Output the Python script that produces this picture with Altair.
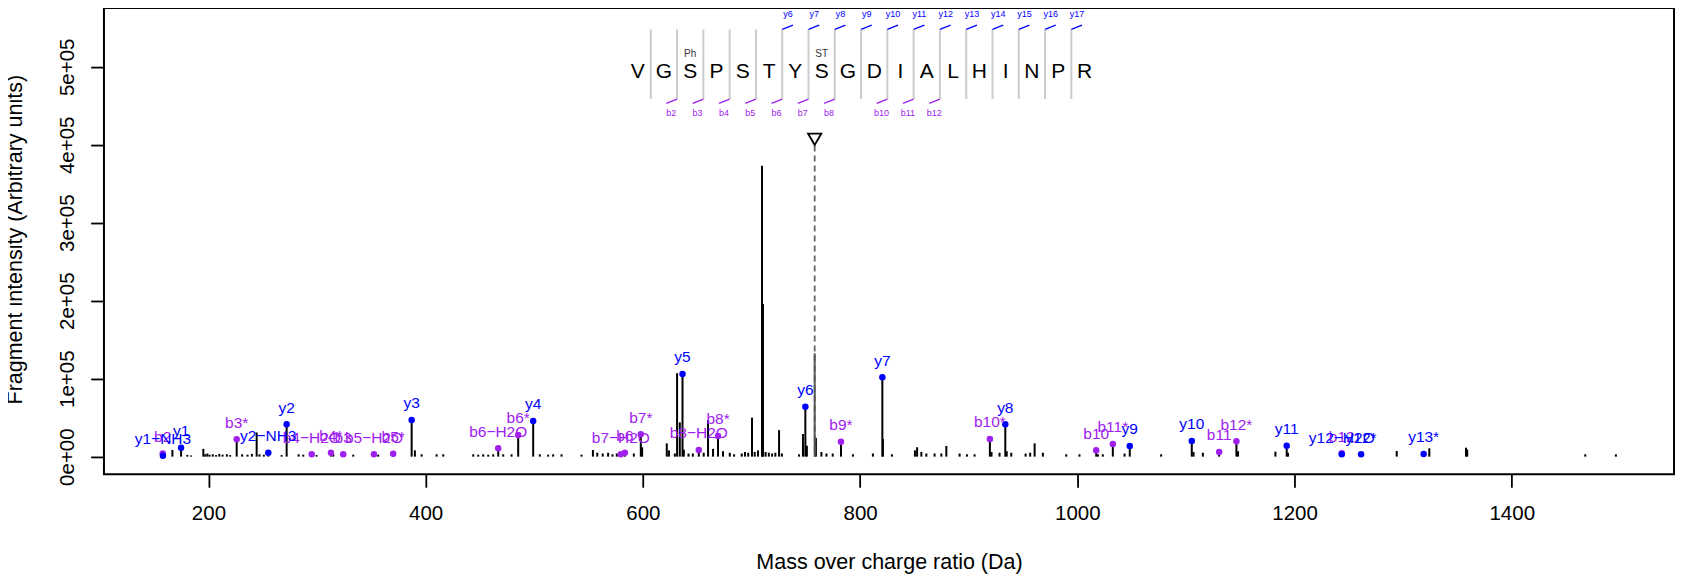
import altair as alt
import pandas as pd

# ---------------- data ----------------
# unlabelled fragment peaks (m/z, intensity)
peak_mz = [166.8, 180.6, 184.0, 195.3, 197.0, 199.0, 201.0, 204.0, 207.0, 210.0,
           213.0, 217.0, 220.0, 231.0, 236.0, 240.0, 244.4, 247.0, 251.0, 267.4,
           283.0, 287.3, 299.6, 315.0, 333.3, 356.3, 390.1, 396.3, 410.1, 416.2,
           443.8, 448.4, 453.0, 457.6, 462.2, 471.4, 479.1, 505.1, 512.8, 517.4,
           525.1, 543.5, 554.0, 558.0, 563.0, 568.0, 572.0, 576.0, 591.7, 599.3,
           622.0, 624.0, 629.4, 631.5, 634.0, 637.7, 642.0, 646.0, 656.0, 660.0,
           664.6, 673.8, 680.0, 684.0, 691.0, 694.0, 697.0, 700.5, 703.0, 706.0,
           709.7, 710.6, 713.0, 716.0, 719.0, 722.0, 725.4, 728.0, 743.8, 747.4,
           751.0, 759.3, 764.4, 769.0, 774.8, 793.4, 811.8, 821.0, 829.3, 850.5,
           852.5, 856.4, 861.0, 868.6, 874.8, 879.4, 891.6, 898.4, 905.4, 921.0,
           928.4, 935.0, 939.2, 952.4, 956.6, 960.7, 968.3, 989.8, 1002.0, 1019.0,
           1023.5, 1043.5, 1077.2, 1107.0, 1115.6, 1148.0, 1182.4, 1194.0, 1294.1, 1324.1,
           1357.9, 1359.0, 1467.7, 1495.9]
peak_int = [8600, 2200, 1500, 10000, 3000, 4000, 2500, 3000, 2000, 3500,
            2500, 3000, 2000, 3000, 2500, 3500, 31000, 3000, 2500, 2000,
            3000, 2500, 2000, 3000, 2500, 2500, 8000, 3000, 3000, 3000,
            3000, 2500, 3000, 2500, 3000, 3000, 3000, 3000, 2500, 3000,
            3000, 2500, 8600, 5000, 4000, 5000, 3000, 4000, 4000, 12000,
            17000, 8000, 4000, 107000, 44000, 9000, 4000, 4000, 5000, 47000,
            10000, 7000, 5000, 3000, 4000, 6000, 5000, 50000, 6000, 8000,
            373000, 195700, 6000, 5000, 4000, 5000, 34000, 4000, 3000, 29000,
            14000, 24000, 6000, 4000, 4000, 3000, 4000, 22700, 3000, 8000,
            12000, 6000, 4000, 4000, 4000, 13700, 4000, 3000, 3000, 6000,
            5000, 7000, 5000, 4000, 5000, 17000, 5000, 3000, 3000, 3000,
            3000, 4000, 3000, 6000, 5000, 7000, 6400, 5000, 7300, 10700,
            11500, 9000, 3000, 3000]

# annotated fragment ions
ion_mz = [157.9, 226.0, 295.1, 312.8, 324.1, 352.4, 370.1, 466.8, 485.2, 579.7,
          583.4, 598.1, 651.5, 669.2, 782.4, 919.5, 1017.4, 1032.7, 1130.6, 1146.5,
          1243.5,
          158.1, 174.8, 255.1, 272.0, 387.1, 499.0, 636.5, 749.6, 820.5, 933.7,
          1048.3, 1105.4, 1192.8, 1243.5, 1261.3, 1318.9]
ion_int = [4000, 22300, 3100, 5100, 3100, 3100, 3800, 10800, 27800, 3000,
           5100, 28700, 8600, 26500, 19200, 22700, 8200, 16300, 6000, 19700,
           4400,
           1000, 11500, 5100, 41500, 47000, 45800, 106000, 64100, 101800, 41500,
           13700, 20100, 14100, 3000, 3100, 3500]
ion_label = ["b2", "b3*", "b4\u2212H2O", "b4*", "b3", "b5\u2212H2O", "b5*", "b6\u2212H2O", "b6*", "b7\u2212H2O",
             "b6", "b7*", "b8\u2212H2O", "b8*", "b9*", "b10*", "b10", "b11*", "b11", "b12*",
             "b12",
             "y1\u2212NH3", "y1", "y2\u2212NH3", "y2", "y3", "y4", "y5", "y6", "y7", "y8",
             "y9", "y10", "y11", "y12\u2212H2O", "y12*", "y13*"]
ion_type = ["b"] * 21 + ["y"] * 16

precursor_mz = [758.2]
precursor_int = [132500]
marker_int = [407000]
dash_top = [399000]

# peptide sequence annotation
residues = list("VGSPSTYSGDIALHINPR")
mod_pos = [3, 8]
mod_text = ["Ph", "ST"]
y_ion_numbers = list(range(6, 18))
b_ion_numbers = [2, 3, 4, 5, 6, 7, 8, 10, 11, 12]

# ---------------- layout constants ----------------
X_DOMAIN = [103.8, 1549.4]
Y_DOMAIN = [-22560, 575256]
SEQ_CENTER = 800.9   # m/z position of the middle of the sequence band
SEQ_STEP = 24.2      # m/z width of one residue cell
FONT = "Liberation Sans"
BLUE = "#0000FF"
PURPLE = "#A020F0"

peaks_df = pd.DataFrame({"mz": peak_mz + ion_mz, "intensity": peak_int + ion_int})
ions_df = pd.DataFrame({"mz": ion_mz, "intensity": ion_int, "label": ion_label, "type": ion_type})
prec_df = pd.DataFrame({"mz": precursor_mz, "intensity": precursor_int,
                        "marker": marker_int, "dash_top": dash_top})
res_df = pd.DataFrame({"pos": list(range(1, len(residues) + 1)), "residue": residues})
sep_df = pd.DataFrame({"k": list(range(1, len(residues)))})
mod_df = pd.DataFrame({"pos": mod_pos, "mod": mod_text})
yion_df = pd.DataFrame({"k": y_ion_numbers, "name": ["y%d" % k for k in y_ion_numbers]})
bion_df = pd.DataFrame({"k": b_ion_numbers, "name": ["b%d" % k for k in b_ion_numbers]})

xscale = alt.Scale(domain=X_DOMAIN, nice=False, zero=False)
yscale = alt.Scale(domain=Y_DOMAIN, nice=False, zero=False)

xaxis = alt.Axis(values=[200, 400, 600, 800, 1000, 1200, 1400], format="d",
                 title="Mass over charge ratio (Da)", tickSize=13, tickWidth=1.8,
                 labelFontSize=20.5, titleFontSize=21.5, labelBaseline="alphabetic",
                 labelPadding=32.7, titleBaseline="alphabetic", titleY=94,
                 labelFlush=False, labelOverlap=False)
yaxis = alt.Axis(values=[0, 100000, 200000, 300000, 400000, 500000],
                 labelExpr="datum.value == 0 ? '0e+00' : (datum.value / 100000) + 'e+05'",
                 title="Fragment intensity (Arbitrary units)", tickSize=13.3, tickWidth=1.8,
                 labelFontSize=20.5, titleFontSize=21.5, labelAngle=270, labelAlign="center",
                 labelBaseline="alphabetic", labelPadding=16.7, titleAngle=270,
                 titleAlign="center", titleBaseline="alphabetic", titleX=-82.4, titleY=231.2,
                 labelOverlap=False, labelFlush=False)

color_scale = alt.Scale(domain=["b", "y"], range=[PURPLE, BLUE])

sticks = alt.Chart(peaks_df).mark_rule(color="black", strokeWidth=2).encode(
    x=alt.X("mz:Q", scale=xscale, axis=xaxis),
    y=alt.Y("intensity:Q", scale=yscale, axis=yaxis),
    y2=alt.datum(0),
)

dashed = alt.Chart(prec_df).mark_rule(color="#666666", strokeWidth=1.8, strokeDash=[6, 4]).encode(
    x="mz:Q", y="dash_top:Q", y2=alt.datum(0))

prec_stick = alt.Chart(prec_df).mark_rule(color="#555555", strokeWidth=2).encode(
    x="mz:Q", y="intensity:Q", y2=alt.datum(0))

marker = alt.Chart(prec_df).mark_point(shape="triangle-down", filled=False, color="black",
                                       size=177, strokeWidth=1.8, opacity=1).encode(
    x="mz:Q", y="marker:Q")

dots = alt.Chart(ions_df).mark_circle(size=42, opacity=1).encode(
    x="mz:Q", y="intensity:Q",
    color=alt.Color("type:N", scale=color_scale, legend=None))

labels = alt.Chart(ions_df).mark_text(font=FONT, fontSize=15.5, dy=-11.5,
                                      baseline="alphabetic", align="center").encode(
    x="mz:Q", y="intensity:Q", text="label:N",
    color=alt.Color("type:N", scale=color_scale, legend=None))

# sequence band
seq_letters = alt.Chart(res_df).transform_calculate(
    xpos=f"{SEQ_CENTER} + (datum.pos - 9.5) * {SEQ_STEP}"
).mark_text(font=FONT, fontSize=21, baseline="alphabetic", align="center", color="black").encode(
    x="xpos:Q", y=alt.value(70.3), text="residue:N")

seq_mods = alt.Chart(mod_df).transform_calculate(
    xpos=f"{SEQ_CENTER} + (datum.pos - 9.5) * {SEQ_STEP}"
).mark_text(font=FONT, fontSize=10, baseline="alphabetic", align="center", color="#333333").encode(
    x="xpos:Q", y=alt.value(48.7), text="mod:N")

separators = alt.Chart(sep_df).transform_calculate(
    xpos=f"{SEQ_CENTER} + (datum.k - 9) * {SEQ_STEP}"
).mark_rule(color="#CCCCCC", strokeWidth=2).encode(
    x="xpos:Q", y=alt.value(21.3), y2=alt.value(91))

y_ticks = alt.Chart(yion_df).transform_calculate(
    xpos=f"{SEQ_CENTER} + (datum.k - 9) * {SEQ_STEP}",
    xend=f"{SEQ_CENTER} + (datum.k - 9) * {SEQ_STEP} + 9.85"
).mark_rule(color=BLUE, strokeWidth=1.3).encode(
    x="xpos:Q", x2="xend:Q", y=alt.value(21.3), y2=alt.value(17))

y_names = alt.Chart(yion_df).transform_calculate(
    xpos=f"{SEQ_CENTER} + (datum.k - 9) * {SEQ_STEP} + 5.3"
).mark_text(font=FONT, fontSize=9, baseline="alphabetic", align="center", color=BLUE).encode(
    x="xpos:Q", y=alt.value(8.7), text="name:N")

b_ticks = alt.Chart(bion_df).transform_calculate(
    xpos=f"{SEQ_CENTER} + (datum.k - 9) * {SEQ_STEP}",
    xend=f"{SEQ_CENTER} + (datum.k - 9) * {SEQ_STEP} - 9.85"
).mark_rule(color=PURPLE, strokeWidth=1.3).encode(
    x="xpos:Q", x2="xend:Q", y=alt.value(91), y2=alt.value(95.3))

b_names = alt.Chart(bion_df).transform_calculate(
    xpos=f"{SEQ_CENTER} + (datum.k - 9) * {SEQ_STEP} - 5.3"
).mark_text(font=FONT, fontSize=9, baseline="alphabetic", align="center", color=PURPLE).encode(
    x="xpos:Q", y=alt.value(107.7), text="name:N")

chart = alt.layer(
    sticks, dashed, prec_stick, marker, dots, labels,
    separators, seq_letters, seq_mods, y_ticks, y_names, b_ticks, b_names,
).properties(
    width=1570.7, height=466.3,
    autosize=alt.AutoSizeParams(type="none"),
    padding={"left": 96, "top": 0, "right": 3, "bottom": 100},
).configure_view(
    stroke="black", strokeWidth=2
).configure_axis(
    labelFont=FONT, titleFont=FONT, labelColor="black", titleColor="black",
    tickColor="black", domain=False, grid=False, titleFontWeight="normal"
)

chart.save("out.html", embed_options={"renderer": "svg", "actions": False})
